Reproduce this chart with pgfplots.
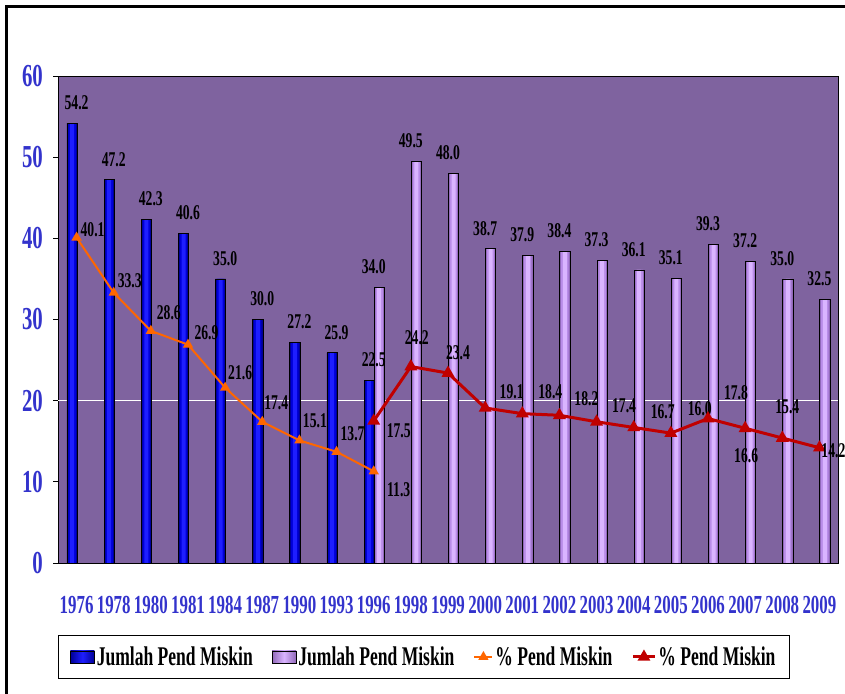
\documentclass[border=0pt]{standalone}
\usepackage{fontspec}
\setmainfont{Liberation Serif}[FakeStretch=0.65]
\usepackage{pgfplots}
\pgfplotsset{compat=1.18}
\usepackage{pgfplotstable}

\definecolor{plotbg}{RGB}{127,99,159}
\definecolor{tickblue}{RGB}{51,51,204}
\definecolor{blueA}{RGB}{0,0,150}
\definecolor{blueB}{RGB}{0,0,215}
\definecolor{blueC}{RGB}{30,30,255}
\definecolor{lavA}{RGB}{145,105,185}
\definecolor{lavB}{RGB}{185,140,232}
\definecolor{lavC}{RGB}{218,180,255}
\definecolor{lineorange}{RGB}{255,102,0}
\definecolor{linered}{RGB}{192,0,0}

\pgfplotstableread{
x y
0 54.2
1 47.2
2 42.3
3 40.6
4 35.0
5 30.0
6 27.2
7 25.9
8 22.5
}\blueBars

\pgfplotstableread{
x y
8 34.0
9 49.5
10 48.0
11 38.7
12 37.9
13 38.4
14 37.3
15 36.1
16 35.1
17 39.3
18 37.2
19 35.0
20 32.5
}\lavBars

\pgfplotstableread{
x y dx dy
0 40.1 16 7.5
1 33.3 16 12
2 28.6 18 18
3 26.9 18.5 12
4 21.6 15 15
5 17.4 14 19
6 15.1 15.5 20
7 13.7 16 18
8 11.3 25 -18
}\orangeLine

\pgfplotstableread{
x y dx dy
8 17.5 25 -10
9 24.2 6 29
10 23.4 10 20
11 19.1 26.5 16.5
12 18.4 28 22
13 18.2 27 17
14 17.4 27.5 16
15 16.7 29 16
16 16.0 29 24
17 17.8 28 26
18 16.6 1 -27
19 15.4 5 31.5
20 14.2 14 -3
}\redLine

\pgfplotsset{
  vlabel/.style={
    nodes near coords={\pgfmathprintnumber[fixed,fixed zerofill,precision=1]{\pgfplotspointmeta}},
    every node near coord/.append style={text=black, inner sep=0pt, font=\bfseries\fontsize{21}{21}\selectfont}},
}

\begin{document}
\begin{tikzpicture}[x=1pt,y=1pt]
\useasboundingbox (0,0) rectangle (845,693);
\begin{axis}[
  at={(58pt,130pt)}, anchor=south west,
  scale only axis, width=780pt, height=487pt,
  xmin=-0.5, xmax=20.5, ymin=0, ymax=60,
  clip=false,
  /pgf/number format/assume math mode=true,
  xtick={0,...,20},
  xticklabels={1976,1978,1980,1981,1984,1987,1990,1993,1996,1998,1999,2000,2001,2002,2003,2004,2005,2006,2007,2008,2009},
  ytick={0,10,...,60},
  extra y ticks={20}, extra y tick labels={},
  extra y tick style={grid=major, major grid style={white, line width=0.9pt}},
  axis background/.style={fill=plotbg},
  axis line style={black, line width=0.8pt},
  ytick style={black, line width=0.8pt},
  xtick style={draw=none},
  ytick pos=left, xtick pos=bottom, tick align=outside, major tick length=5pt,
  yticklabel style={font=\bfseries\fontsize{32}{32}\selectfont, text=tickblue, anchor=east, inner sep=0pt, xshift=-10pt},
  xticklabel style={font=\bfseries\fontsize{26}{26}\selectfont, text=tickblue, anchor=north, inner sep=0pt, yshift=-28pt},
  legend style={at={(0.469,-0.193)}, anchor=center, draw=black, line width=0.8pt,
    inner xsep=12pt, inner ysep=8pt,
    legend columns=4, font=\bfseries\fontsize{27}{27}\selectfont,
    nodes={inner xsep=2pt, inner ysep=3pt},
    /tikz/every even column/.append style={column sep=17pt}},
  legend cell align=left,
]
% blue bars (layered for gradient look)
\addplot[ybar, bar width=10.3pt, bar shift=-4.5pt, fill=blueA, draw=none, forget plot] table[x=x,y=y] {\blueBars};
\addplot[ybar, bar width=7.4pt, bar shift=-4.5pt, fill=blueB, draw=none, forget plot] table[x=x,y=y] {\blueBars};
\addplot[ybar, bar width=4pt, bar shift=-4.5pt, fill=blueC, draw=none, forget plot] table[x=x,y=y] {\blueBars};
\addplot[ybar, bar width=10.3pt, bar shift=-4.5pt, draw=black, fill=none, line width=0.8pt,
  vlabel, every node near coord/.append style={anchor=south, yshift=13pt},
  legend image code/.code={\draw[draw=black, line width=0.6pt, left color=blueA, right color=blueA, middle color=blueC] (0pt,-6pt) rectangle (24pt,6pt);}
] table[x=x,y=y] {\blueBars};
\addlegendentry{Jumlah Pend Miskin}
% lavender bars
\addplot[ybar, bar width=10.3pt, bar shift=5.5pt, fill=lavA, draw=none, forget plot] table[x=x,y=y] {\lavBars};
\addplot[ybar, bar width=7.4pt, bar shift=5.5pt, fill=lavB, draw=none, forget plot] table[x=x,y=y] {\lavBars};
\addplot[ybar, bar width=4pt, bar shift=5.5pt, fill=lavC, draw=none, forget plot] table[x=x,y=y] {\lavBars};
\addplot[ybar, bar width=10.3pt, bar shift=5.5pt, draw=black, fill=none, line width=0.8pt,
  vlabel, every node near coord/.append style={anchor=south, yshift=13pt},
  legend image code/.code={\draw[draw=black, line width=0.6pt, left color=lavA, right color=lavA, middle color=lavC] (0pt,-6pt) rectangle (24pt,6pt);}
] table[x=x,y=y] {\lavBars};
\addlegendentry{Jumlah Pend Miskin}
% orange line
\addplot[lineorange, line width=2pt, mark=triangle*, mark size=4pt, mark options={solid, fill=lineorange},
  visualization depends on={\thisrow{dx}\as\dx},
  visualization depends on={\thisrow{dy}\as\dy},
  vlabel, every node near coord/.append style={anchor=center, xshift=\dx pt, yshift=\dy pt},
  legend image code/.code={\draw[mark repeat=2,mark phase=2] plot coordinates {(0pt,0pt) (9pt,0pt) (18pt,0pt)};}
] table[x=x,y=y] {\orangeLine};
\addlegendentry{\% Pend Miskin}
% red line
\addplot[linered, line width=3pt, mark=triangle*, mark size=4.5pt, mark options={solid, fill=linered},
  visualization depends on={\thisrow{dx}\as\dx},
  visualization depends on={\thisrow{dy}\as\dy},
  vlabel, every node near coord/.append style={anchor=center, xshift=\dx pt, yshift=\dy pt},
  legend image code/.code={\draw[mark repeat=2,mark phase=2] plot coordinates {(0pt,0pt) (11pt,0pt) (22pt,0pt)};}
] table[x=x,y=y] {\redLine};
\addlegendentry{\% Pend Miskin}
\end{axis}
\draw[line width=3pt, black] (6.5,-5) -- (6.5,686.5) -- (850,686.5);
\end{tikzpicture}
\end{document}
